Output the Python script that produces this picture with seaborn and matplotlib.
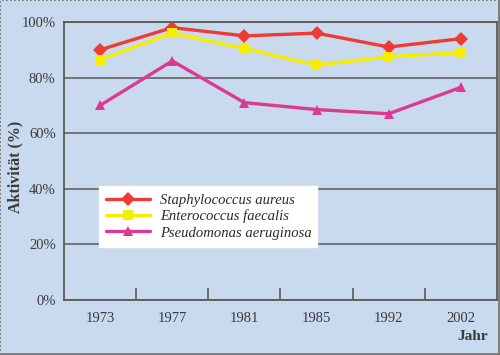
import pandas as pd
import matplotlib.pyplot as plt
import matplotlib.lines as mlines
import seaborn as sns
from matplotlib.ticker import FixedLocator, FuncFormatter

# data
jahre = ['1973', '1977', '1981', '1985', '1992', '2002']
staph = [90, 98, 95, 96, 91, 94]
entero = [86.5, 96, 90.5, 84.5, 87.5, 89]
pseudo = [70, 86, 71, 68.5, 67, 76.5]
arten = ['Staphylococcus aureus', 'Enterococcus faecalis', 'Pseudomonas aeruginosa']
farben = ['#ee3b33', '#f6ee00', '#dc3a92']
marker = ['D', 's', '^']

df = pd.DataFrame({
    'Jahr': jahre * 3,
    'Aktivitaet': staph + entero + pseudo,
    'Art': [arten[0]] * 6 + [arten[1]] * 6 + [arten[2]] * 6,
})

bg = '#c9d9ee'
grau = '#5a5a5a'
sns.set_style('white')
plt.rcParams['font.family'] = ['Liberation Serif', 'DejaVu Serif']

fig = plt.figure(figsize=(5, 3.55), dpi=100)
fig.patch.set_facecolor(bg)
ax = fig.add_axes([0.128, 0.155, 0.866, 0.783])
ax.set_facecolor(bg)

sns.lineplot(data=df, x='Jahr', y='Aktivitaet', hue='Art', style='Art',
             palette=farben, markers=marker, dashes=False, linewidth=2.4,
             markersize=7.5, markeredgewidth=0, ax=ax, sort=False)

ax.set_xlim(-0.5, 5.5)
ax.set_ylim(0, 100)
ax.yaxis.set_major_locator(FixedLocator([0, 20, 40, 60, 80, 100]))
ax.yaxis.set_major_formatter(FuncFormatter(lambda v, p: f'{int(v)}%'))
ax.xaxis.set_minor_locator(FixedLocator([0.5, 1.5, 2.5, 3.5, 4.5]))
ax.tick_params(axis='both', which='major', length=0, labelsize=10.5,
               labelcolor='#3a3a3a', pad=6)
ax.tick_params(axis='x', which='major', pad=9)
ax.tick_params(axis='x', which='minor', direction='in', length=9,
               width=1.2, color=grau, bottom=True)
ax.grid(axis='y', color=grau, linewidth=1.1)
ax.set_axisbelow(True)
for s in ['left', 'bottom', 'right', 'top']:
    ax.spines[s].set_color(grau)
    ax.spines[s].set_linewidth(1.3)

ax.set_xlabel('')
ax.set_ylabel('')
fig.text(0.03, 0.53, 'Aktivität (%)', rotation=90, ha='center', va='center',
         fontsize=11.5, fontweight='bold', color='#3a3a3a')
fig.text(0.975, 0.051, 'Jahr', ha='right', va='center', fontsize=11,
         fontweight='bold', color='#3a3a3a')

leg = ax.legend(loc='center left', bbox_to_anchor=(0.081, 0.2, 0.503, 0.2),
                mode='expand', frameon=True, fancybox=False, borderaxespad=0,
                borderpad=0.5, handlelength=3.0, handletextpad=0.7,
                labelspacing=0.2, prop={'style': 'italic', 'size': 10.5})
leg.get_frame().set_facecolor('white')
leg.get_frame().set_edgecolor('white')
leg.get_frame().set_alpha(1)
for t in leg.get_texts():
    t.set_color('#2a2a2a')

# dotted figure frame with a heavier right/bottom edge
fig.patch.set_edgecolor('#808080')
fig.patch.set_linewidth(1.0)
fig.patch.set_linestyle(':')
fig.add_artist(mlines.Line2D([0.997, 0.997], [0, 1], color='#7a7a7a', lw=2,
                             transform=fig.transFigure))
fig.add_artist(mlines.Line2D([0, 1], [0.003, 0.003], color='#7a7a7a', lw=2,
                             transform=fig.transFigure))

fig.savefig('out.png', dpi=100, facecolor=fig.get_facecolor(),
            edgecolor=fig.patch.get_edgecolor())
